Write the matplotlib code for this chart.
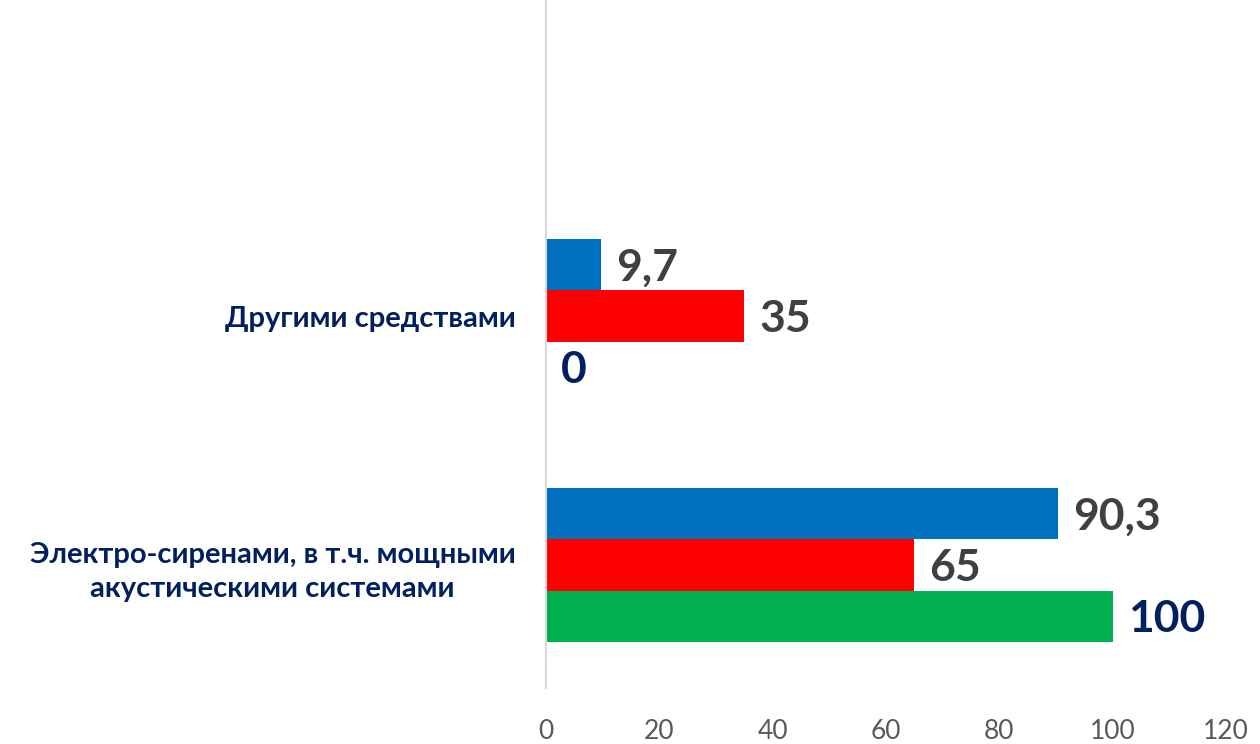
import numpy as np
import matplotlib.pyplot as plt

# categories (bottom to top) and series values
categories = ["Электро-сиренами, в т.ч. мощными\nакустическими системами",
              "Другими средствами"]
blue_vals = [90.3, 9.7]
red_vals = [65, 35]
green_vals = [100, 0]
blue_labels = ["90,3", "9,7"]
red_labels = ["65", "35"]
green_labels = ["100", "0"]
x_ticks = [0, 20, 40, 60, 80, 100, 120]

plt.rcParams['font.family'] = ['Lato', 'DejaVu Sans']

fig = plt.figure(figsize=(12.6, 7.44), dpi=100)
ax = fig.add_axes([0.4333, 0.0753, 0.5397, 0.9247])

y = np.arange(len(categories))
h = 0.207

series = [
    (blue_vals, blue_labels, h, '#0070C0', '#404040'),
    (red_vals, red_labels, 0.0, '#FF0000', '#404040'),
    (green_vals, green_labels, -h, '#00B050', '#002060'),
]

for vals, labels, off, color, lcolor in series:
    bars = ax.barh(y + off, vals, height=h, color=color)
    for b, lab in zip(bars, labels):
        ax.annotate(lab, (b.get_width(), b.get_y() + b.get_height() / 2),
                    xytext=(11, -2), textcoords='offset points',
                    ha='left', va='center', fontsize=32, fontweight='bold',
                    color=lcolor)

ax.set_xlim(0, 120)
ax.set_ylim(-0.494, 2.27)
ax.set_xticks(x_ticks)
ax.set_xticklabels([str(t) for t in x_ticks], fontsize=19, color='#595959')
ax.set_yticks(y)
ax.set_yticklabels(categories, fontsize=21, fontweight='bold', color='#002060',
                   multialignment='center', linespacing=1.4)
ax.tick_params(axis='both', length=0)
ax.tick_params(axis='y', pad=22)
ax.tick_params(axis='x', pad=22)

for s in ['top', 'right', 'bottom']:
    ax.spines[s].set_visible(False)
ax.spines['left'].set_color('#D9D9D9')
ax.spines['left'].set_linewidth(1.5)

fig.savefig('out.png', dpi=100)
